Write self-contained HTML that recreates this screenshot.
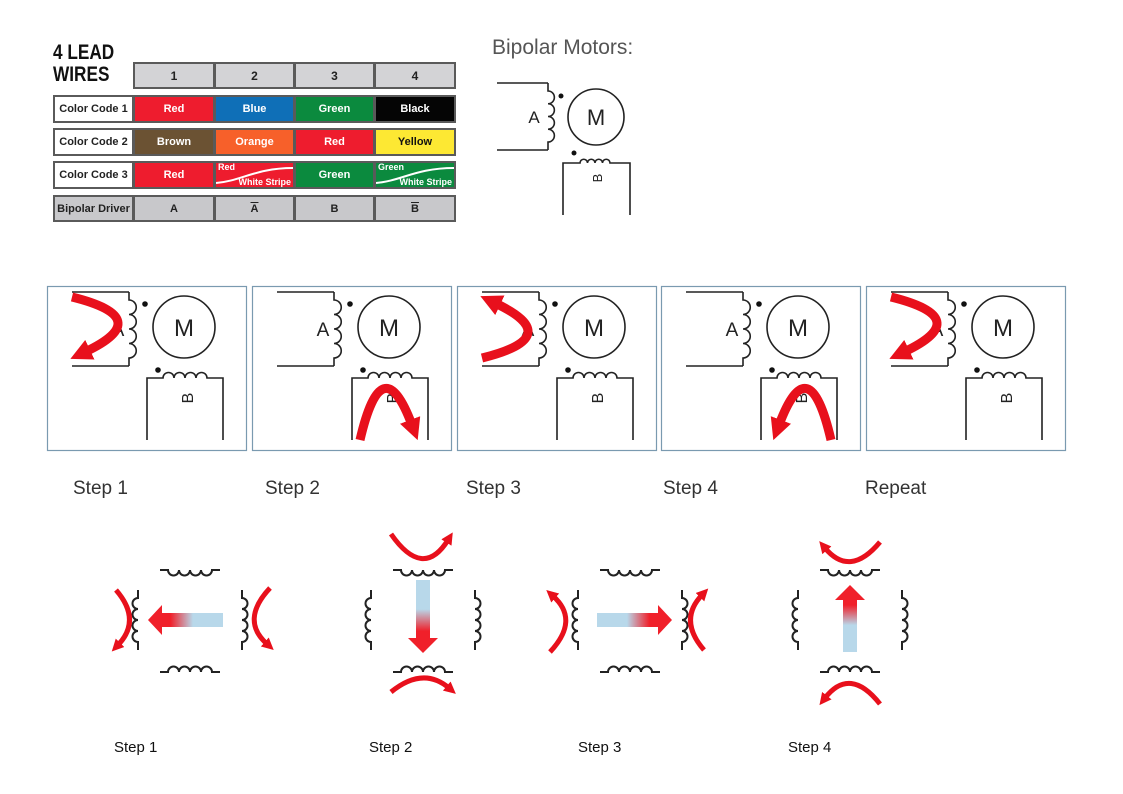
<!DOCTYPE html>
<html><head><meta charset="utf-8"><style>
body{margin:0;background:#fff;width:1123px;height:794px;position:relative;overflow:hidden;font-family:"Liberation Sans",sans-serif}
.c{position:absolute;box-sizing:border-box;border:2px solid #5a5a5a;display:flex;align-items:center;justify-content:center;font-size:11px;font-weight:bold;color:#fff}
.h{background:#d3d3d6;color:#222;font-size:12px}
.l{background:#fff;color:#222;font-size:11px}
.g{background:#c8c8cb;color:#222;font-size:11px}
.s{position:absolute;font-size:19px;color:#333}
.t{position:absolute;font-size:15px;color:#111}
</style></head><body>
<div style="position:absolute;left:53px;top:42px;font-size:21px;font-weight:bold;line-height:22px;color:#111;transform:scaleX(0.82);transform-origin:left">4 LEAD<br>WIRES</div>
<div id="tbl"></div>
<div style="position:absolute;left:492px;top:36px;font-size:21px;color:#555">Bipolar Motors:</div>
<svg id="sv" width="1123" height="794" style="position:absolute;left:0;top:0"></svg>
<div class="s" style="left:73px;top:478px">Step 1</div>
<div class="s" style="left:265px;top:478px">Step 2</div>
<div class="s" style="left:466px;top:478px">Step 3</div>
<div class="s" style="left:663px;top:478px">Step 4</div>
<div class="s" style="left:865px;top:478px">Repeat</div>
<div class="t" style="left:114px;top:739px">Step 1</div>
<div class="t" style="left:369px;top:739px">Step 2</div>
<div class="t" style="left:578px;top:739px">Step 3</div>
<div class="t" style="left:788px;top:739px">Step 4</div>
<script>
var cols=[133,214,294,374,455];
var rows=[[62,89],[95,123],[128,156],[161,189],[195,222]];
var labels=["","Color Code 1","Color Code 2","Color Code 3","Bipolar Driver"];
var cells=[
 [["1","h"],["2","h"],["3","h"],["4","h"]],
 [["Red","#ee1c2e"],["Blue","#0f6fb7"],["Green","#0b8a3e"],["Black","#050505"]],
 [["Brown","#6b5233"],["Orange","#f7602a"],["Red","#ee1c2e"],["Yellow","#fde833"]],
 [["Red","#ee1c2e"],["S:Red:#ee1c2e"],["Green","#0b8a3e"],["S:Green:#0b8a3e"]],
 [["A","g"],["A\u0305","g"],["B","g"],["B\u0305","g"]]];
var html="";
for(var r=0;r<rows.length;r++){
 var y=rows[r][0],h=rows[r][1]-rows[r][0];
 if(r>0){html+='<div class="c '+(r==4?'g':'l')+'" style="left:53px;top:'+y+'px;width:81px;height:'+h+'px">'+labels[r]+'</div>';}
 for(var c=0;c<4;c++){
  var v=cells[r][c],x=cols[c],w=cols[c+1]-cols[c]+1;
  var st='left:'+x+'px;top:'+y+'px;width:'+w+'px;height:'+h+'px;';
  if(v.length==2&&(v[1]=="h"||v[1]=="g")){
   var txt=v[0];
   if(txt.length>1){txt='<span style="text-decoration:overline">'+txt[0]+'</span>';}
   html+='<div class="c '+v[1]+'" style="'+st+'">'+txt+'</div>';
  } else if(v[0].indexOf("S:")==0){
   var p=v[0].split(":");
   html+='<div class="c" style="'+st+'background:'+p[2]+';display:block;font-size:9px"><svg width="'+(w-4)+'" height="'+(h-4)+'" style="position:absolute;left:0;top:0"><path d="M0 '+(h-8)+' C25 '+(h-10)+' 40 5 '+(w-4)+' 5" stroke="#fff" stroke-width="2" fill="none"/></svg><span style="position:absolute;left:2px;top:-1px">'+p[1]+'</span><span style="position:absolute;right:2px;bottom:0px">White Stripe</span></div>';
  } else {
   html+='<div class="c" style="'+st+'background:'+v[1]+';'+(v[0]=="Yellow"?'color:#111':'')+'">'+v[0]+'</div>';
  }
 }
}
document.getElementById('tbl').innerHTML=html;

function hcoil(x1,x2,y,n,up){var r=(x2-x1-16)/(2*n);var d='M'+x1+' '+y+' h8';for(var i=0;i<n;i++)d+=' a'+r+' '+r+' 0 0 '+(up?1:0)+' '+(2*r)+' 0';return d+' h8';}
function vcoil(x,y1,y2,n,right){var r=(y2-y1-16)/(2*n);var d='M'+x+' '+y1+' v8';for(var i=0;i<n;i++)d+=' a'+r+' '+r+' 0 0 '+(right?1:0)+' 0 '+(2*r);return d+' v8';}
var K='stroke="#222" stroke-width="1.6" fill="none"';
var s='<defs><marker id="ah" viewBox="0 0 4 4" markerWidth="2.4" markerHeight="2.4" refX="1" refY="2" orient="auto" markerUnits="strokeWidth"><path d="M0 0 L4 2 L0 4z" fill="#e8101c"/></marker>'+
 '<linearGradient id="gl" x1="0" x2="1"><stop offset="0" stop-color="#f0202a"/><stop offset="0.3" stop-color="#f0202a"/><stop offset="0.6" stop-color="#b8d8ea"/><stop offset="1" stop-color="#b8d8ea"/></linearGradient>'+
 '<linearGradient id="gr" x1="1" x2="0"><stop offset="0" stop-color="#f0202a"/><stop offset="0.3" stop-color="#f0202a"/><stop offset="0.6" stop-color="#b8d8ea"/><stop offset="1" stop-color="#b8d8ea"/></linearGradient>'+
 '<linearGradient id="gd" x1="0" x2="0" y1="1" y2="0"><stop offset="0" stop-color="#f0202a"/><stop offset="0.3" stop-color="#f0202a"/><stop offset="0.6" stop-color="#b8d8ea"/><stop offset="1" stop-color="#b8d8ea"/></linearGradient>'+
 '<linearGradient id="gu" x1="0" x2="0" y1="0" y2="1"><stop offset="0" stop-color="#f0202a"/><stop offset="0.3" stop-color="#f0202a"/><stop offset="0.6" stop-color="#b8d8ea"/><stop offset="1" stop-color="#b8d8ea"/></linearGradient></defs>';
s+='<g>';
s+='<path d="'+vcoil(548,83,150,4,true)+'" '+K+'/><path d="M497 83 H548 M497 150 H548" '+K+'/>';
s+='<circle cx="596" cy="117" r="28" '+K+'/><text x="596" y="125" text-anchor="middle" font-size="22" fill="#222">M</text>';
s+='<text x="534" y="123" text-anchor="middle" font-size="17" fill="#222">A</text><circle cx="561" cy="96" r="2.5" fill="#111"/><circle cx="574" cy="153" r="2.5" fill="#111"/>';
s+='<path d="'+hcoil(572,618,163,4,true)+'" '+K+'/><path d="M572 163 H563 V215 M618 163 H630 V215" '+K+'/>';
s+='<text x="598" y="182" text-anchor="middle" font-size="13" fill="#222" transform="rotate(-90 598 178)">B</text></g>';
var panelX=[47,252,457,661,866];
var panelArrow=["a-out","b-out","a-in","b-in","a-out"];
for(var i=0;i<5;i++){
 var x=panelX[i];
 s+='<g>';
 s+='<rect x="'+(x+0.5)+'" y="286.5" width="199" height="164" fill="#fff" stroke="#7a9ab0" stroke-width="1.2"/>';
 s+='<path d="M'+(x+25)+' 292 H'+(x+82)+' M'+(x+25)+' 366 H'+(x+82)+'" '+K+'/><path d="'+vcoil(x+82,292,366,4,true)+'" '+K+'/>';
 s+='<circle cx="'+(x+137)+'" cy="327" r="31" '+K+'/><text x="'+(x+137)+'" y="336" text-anchor="middle" font-size="24" fill="#222">M</text>';
 s+='<text x="'+(x+71)+'" y="336" text-anchor="middle" font-size="19" fill="#222">A</text>';
 s+='<circle cx="'+(x+98)+'" cy="304" r="2.8" fill="#111"/><circle cx="'+(x+111)+'" cy="370" r="2.8" fill="#111"/>';
 s+='<path d="'+hcoil(x+108,x+168,378,4,true)+'" '+K+'/><path d="M'+(x+108)+' 378 H'+(x+100)+' V440 M'+(x+168)+' 378 H'+(x+176)+' V440" '+K+'/>';
 s+='<text x="'+(x+140)+'" y="404" text-anchor="middle" font-size="16" fill="#222" transform="rotate(-90 '+(x+140)+' 398)">B</text>';
 var a=panelArrow[i],d;
 if(a=="a-out")d='M'+(x+25)+' 297 Q'+(x+110)+' 318 '+(x+38)+' 352';
 if(a=="a-in")d='M'+(x+25)+' 358 Q'+(x+110)+' 337 '+(x+38)+' 303';
 if(a=="b-out")d='M'+(x+108)+' 440 Q'+(x+130)+' 345 '+(x+160)+' 425';
 if(a=="b-in")d='M'+(x+170)+' 440 Q'+(x+148)+' 345 '+(x+118)+' 425';
 s+='<path d="'+d+'" stroke="#e8101c" stroke-width="9" fill="none" marker-end="url(#ah)"/>';
 s+='</g>';
}
var diag=[[190,620,"L"],[423,620,"D"],[630,620,"R"],[850,620,"U"]];
var R='stroke="#e8101c" stroke-width="5" fill="none" marker-end="url(#ah)"';
var K2=K.replace('1.6','2');
for(var j=0;j<4;j++){
 var cx=diag[j][0],cy=diag[j][1],dr=diag[j][2];
 s+='<g>';
 var hw=52;
 s+='<path d="'+hcoil(cx-30,cx+30,cy-50,4,false)+'" '+K2+'/>';
 s+='<path d="'+hcoil(cx-30,cx+30,cy+52,4,true)+'" '+K2+'/>';
 s+='<path d="'+vcoil(cx-hw,cy-30,cy+30,4,false)+'" '+K2+'/>';
 s+='<path d="'+vcoil(cx+hw,cy-30,cy+30,4,true)+'" '+K2+'/>';
 if(dr=="L"){
  s+='<path d="M'+(cx+33)+' '+(cy-7)+' H'+(cx-28)+' V'+(cy-15)+' L'+(cx-42)+' '+cy+' L'+(cx-28)+' '+(cy+15)+' V'+(cy+7)+' H'+(cx+33)+'z" fill="url(#gl)"/>';
  s+='<path d="M'+(cx-74)+' '+(cy-30)+' Q'+(cx-48)+' '+cy+' '+(cx-72)+' '+(cy+25)+'" '+R+'/>';
  s+='<path d="M'+(cx+80)+' '+(cy-32)+' Q'+(cx+50)+' '+cy+' '+(cx+77)+' '+(cy+24)+'" '+R+'/>';
 } else if(dr=="R"){
  s+='<path d="M'+(cx-33)+' '+(cy-7)+' H'+(cx+28)+' V'+(cy-15)+' L'+(cx+42)+' '+cy+' L'+(cx+28)+' '+(cy+15)+' V'+(cy+7)+' H'+(cx-33)+'z" fill="url(#gr)"/>';
  s+='<path d="M'+(cx-80)+' '+(cy+32)+' Q'+(cx-50)+' '+cy+' '+(cx-77)+' '+(cy-24)+'" '+R+'/>';
  s+='<path d="M'+(cx+74)+' '+(cy+30)+' Q'+(cx+48)+' '+cy+' '+(cx+72)+' '+(cy-25)+'" '+R+'/>';
 } else if(dr=="D"){
  s+='<path d="M'+(cx-7)+' '+(cy-40)+' V'+(cy+18)+' H'+(cx-15)+' L'+cx+' '+(cy+33)+' L'+(cx+15)+' '+(cy+18)+' H'+(cx+7)+' V'+(cy-40)+'z" fill="url(#gd)"/>';
  s+='<path d="M'+(cx-32)+' '+(cy-86)+' Q'+cx+' '+(cy-40)+' '+(cx+25)+' '+(cy-80)+'" '+R+'/>';
  s+='<path d="M'+(cx-32)+' '+(cy+72)+' Q'+cx+' '+(cy+46)+' '+(cx+26)+' '+(cy+68)+'" '+R+'/>';
 } else {
  s+='<path d="M'+(cx-7)+' '+(cy+32)+' V'+(cy-20)+' H'+(cx-15)+' L'+cx+' '+(cy-35)+' L'+(cx+15)+' '+(cy-20)+' H'+(cx+7)+' V'+(cy+32)+'z" fill="url(#gu)"/>';
  s+='<path d="M'+(cx+30)+' '+(cy-78)+' Q'+cx+' '+(cy-42)+' '+(cx-25)+' '+(cy-72)+'" '+R+'/>';
  s+='<path d="M'+(cx+30)+' '+(cy+84)+' Q'+cx+' '+(cy+46)+' '+(cx-25)+' '+(cy+78)+'" '+R+'/>';
 }
 s+='</g>';
}
document.getElementById('sv').innerHTML=s;
</script>
</body></html>
